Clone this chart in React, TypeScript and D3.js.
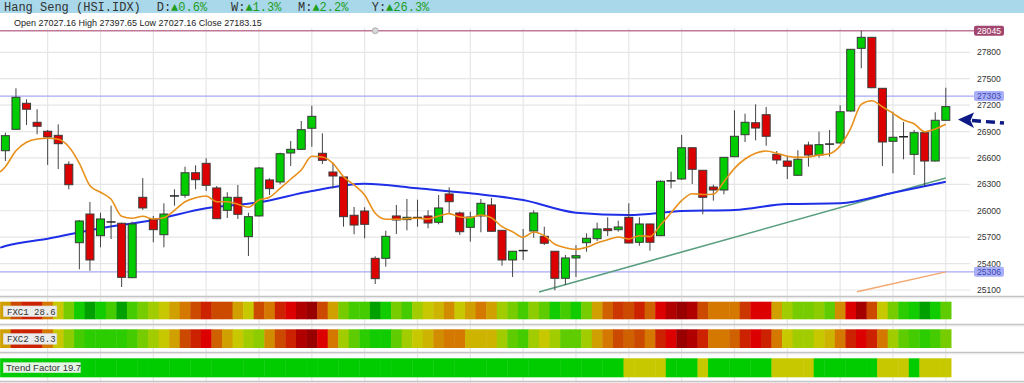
import React from 'react';
import * as d3 from 'd3';

const OPEN = [26682,26925,27221,27005,26903,26857,26528,25637,25963,25717,25870,25858,25240,26153,25899,25728,26165,26176,26432,26539,26259,26005,26153,25706,25941,26350,26327,26656,26698,26937,26653,26440,26384,25949,25997,25460,25460,25941,25899,25920,25941,25869,26191,25975,25812,25941,26066,25778,25441,25545,25770,25710,25540,25233,25464,25637,25683,25796,25785,25926,25642,25850,25717,26338,26361,26716,26460,26270,26236,26614,26864,27000,27091,26641,26565,26403,26747,26633,26755,26770,27133,27845,27970,27391,26789,26838,26641,26887,26565,27027.16];
const HIGH = [26887,27391,27266,27153,26918,26982,26562,25895,26100,25978,26058,25865,25876,26372,25941,26085,26244,26501,26516,26596,26281,26210,26293,25978,26497,26369,26660,26792,27020,27193,26880,26546,26395,26043,26040,25483,25774,26066,26134,26126,26005,26179,26267,25990,25990,26134,26145,25780,25542,25793,26005,25819,25542,25498,25608,25744,25865,25926,25887,26085,25926,25852,26346,26444,26861,26720,26463,26296,26610,27141,27103,27209,27179,26679,26626,26687,26785,26898,26918,27198,27838,28045,27975,27395,27125,27008,26918,26890,27119,27397.65];
const LOW = [26565,26918,26974,26869,26520,26474,26244,25335,25319,25585,25679,25134,25235,26009,25642,25585,26058,26148,26244,26225,25905,25918,25907,25486,25936,26179,26301,26509,26693,26728,26531,26255,25819,25733,25687,25168,25365,25736,25778,25819,25801,25846,25975,25725,25649,25756,25762,25376,25248,25441,25694,25611,25097,25157,25248,25535,25657,25713,25762,25630,25603,25547,25712,26255,26350,26304,25960,26115,26187,26610,26781,26800,26739,26531,26361,26398,26501,26603,26614,26765,27128,27618,27391,26509,26426,26585,26406,26281,26560,27027.16];
const CLOSE = [26853,27289,27153,26960,26838,26762,26296,25884,25441,25907,25876,25244,25850,26032,25785,25963,26172,26432,26353,26289,25910,26153,25960,25933,26486,26251,26648,26698,26921,27073,26573,26395,25933,25838,25846,25229,25710,25895,25926,25926,25861,26032,26103,25762,25929,26085,25767,25441,25540,25550,25975,25631,25233,25464,25490,25687,25793,25774,25816,25634,25850,25642,26335,26342,26716,26471,26153,26236,26607,26846,27005,26940,26846,26577,26505,26585,26633,26751,26760,27125,27834,27970,27398,26781,26835,26843,26887,26565,27028,27183.15];

const MA_FAST_IDX = d3.range(-0.5, 90, 1).map((v, i) => (i === 0 ? -0.5 : i - 1));
const MA_FAST = [26440,26501,26682,26778,26815,26823,26812,26728,26539,26285,26210,26130,25937,25915,25937,25907,25921,26005,26103,26149,26168,26103,26103,26074,26040,26122,26153,26255,26358,26463,26619,26611,26539,26387,26293,26179,25971,25903,25903,25910,25915,25907,25941,25967,25929,25921,25952,25921,25819,25762,25699,25759,25717,25619,25581,25562,25585,25634,25671,25702,25679,25717,25706,25838,25978,26115,26194,26185,26187,26330,26482,26588,26653,26679,26653,26619,26607,26611,26633,26648,26739,26937,27209,27250,27182,27107,27031,26989,26898,26929,26982];

const MA_SLOW_IDX = [-0.5,0,4,9,14,19,24,29,34,39,44,49,54,59,64,69,74,79,84,89];
const MA_SLOW = [25581,25600,25683,25801,25895,26028,26096,26225,26308,26255,26198,26122,25978,25952,25997,26009,26077,26085,26205,26330];

const Y_TICKS = [25100,25400,25700,26000,26300,26600,26900,27200,27500,27800];
const RESISTANCE = 28045;
const BAND_HIGH = 27303;
const BAND_LOW = 25306;
const SUPPORT_LINE = [[50.5, 25077], [89, 26372]];
const LOWER_LINE = [[80.6, 25081], [89, 25306]];

const HEAT_COLORS = ['#990000','#b00000','#dd0000','#cc2200','#cc4a00','#d47800','#d0a000','#c8c800','#a0cc00','#77cc00','#44cc00','#11cc00','#00a000'];
const FXC1 = [6,4,3,3,5,7,9,11,12,11,10,12,10,9,8,7,6,5,4,3,4,4,6,7,4,5,3,2,1,0,4,6,9,10,10,12,11,9,10,8,7,6.5,5.5,7,6,5,6,8,9,10,8.5,9.5,11,10,11,9,6,4.5,3.5,4,3,4.5,2,1,0,1,4,5,5,5,3.5,2,2,6,8,9,9,8.5,9.5,5.5,2,0.5,4,7,9,10.5,11,12,11,9.5];
const FXC2 = [6,3,3,3,5,7,8.5,10,10.5,10.5,10.5,10.5,10,9,8,7,6,4,3,2,4.5,6,7,8,8.5,5.5,4,3,1,0,2,5,8,9.5,10.5,11,11,9.5,8,7,6.5,5.5,5,5,6.5,6.5,6.5,8,9.5,10,8,7,8,9.5,9.5,8,6,5,4,4.5,4,5,3,2,0,1,3,5,5,4.5,3,2,3,5,7,8,8,7,6.5,5,3,2,3,5,8,9.5,10,10.5,10,9];
const TREND = [1,1,1,1,1,1,1,1,1,1,1,1,1,1,1,1,1,1,1,1,1,1,1,1,1,1,1,1,1,1,1,1,1,1,1,1,1,1,1,1,1,1,1,1,1,1,1,1,1,1,1,1,1,1,1,1,1,1,1,0,0,0,0,1,1,1,0,1,1,1,1,1,1,0,0,0,0,1,1,1,1,1,1,0,0,0,1,0,0,0];

const HEADER_NAME = 'Hang Seng (HSI.IDX)';
const HEADER_CHANGES = [['D:', '▲0.6%'], ['W:', '▲1.3%'], ['M:', '▲2.2%'], ['Y:', '▲26.3%']];
const HEADER_X = [156.7, 231, 298, 371.7];
const INFO = 'Open 27027.16 High 27397.65 Low 27027.16 Close 27183.15';
const PANEL_LABELS = ['FXC1 28.6', 'FXC2 36.3', 'Trend Factor 19.7'];

const W = 1024, H = 383;

export default function App() {
  React.useEffect(() => { document.body.style.margin = '0'; }, []);
  const n = OPEN.length;
  const x = d3.scaleLinear().domain([0, n - 1]).range([5.4, 945.8]);
  const y = d3.scaleLinear().domain([25100, 27800]).range([290, 52.3]);
  const step = x(1) - x(0);
  const heat = d3.scaleLinear<string>().domain(d3.range(HEAT_COLORS.length)).range(HEAT_COLORS).interpolate(d3.interpolateRgb);
  const gridIdx = d3.range(4, n, 5);
  const fastLine = d3.line<number>().x((_, i) => x(MA_FAST_IDX[i])).y(d => y(d)).curve(d3.curveMonotoneX);
  const slowLine = d3.line<number>().x((_, i) => x(MA_SLOW_IDX[i])).y(d => y(d)).curve(d3.curveMonotoneX);
  const rows = [
    { vals: FXC1, top: 301.7, h: 17.6, color: (v: number) => heat(v) },
    { vals: FXC2, top: 329.3, h: 18.7, color: (v: number) => heat(v) },
    { vals: TREND, top: 358.3, h: 19, color: (v: number) => (v ? '#00cc00' : '#c8c800') },
  ];
  const labelY = [y(RESISTANCE), y(BAND_HIGH), y(BAND_LOW)];

  return (
    <svg width={W} height={H} style={{ position: 'absolute', left: 0, top: 0, display: 'block' }} fontFamily="'Liberation Sans', Arial, sans-serif">
      <rect x={0} y={0} width={W} height={H} fill="#fff" />
      {gridIdx.map(i => (
        <line key={'vg' + i} x1={x(i)} x2={x(i)} y1={28} y2={H} stroke="#e6e6e6" strokeWidth={1.2} />
      ))}
      {Y_TICKS.map(t => (
        <line key={'hg' + t} x1={0} x2={970} y1={y(t)} y2={y(t)} stroke="#e6e6e6" strokeWidth={1.2} />
      ))}
      <line x1={0} x2={975} y1={y(RESISTANCE)} y2={y(RESISTANCE)} stroke="#c07898" strokeWidth={1.3} />
      <circle cx={x(35)} cy={y(RESISTANCE)} r={3} fill="#d8d8d8" stroke="#b0b0b0" />
      <line x1={0} x2={975} y1={y(BAND_HIGH)} y2={y(BAND_HIGH)} stroke="#a8a8f8" strokeWidth={1.2} />
      <line x1={0} x2={975} y1={y(BAND_LOW)} y2={y(BAND_LOW)} stroke="#a8a8f8" strokeWidth={1.2} />
      <line x1={x(SUPPORT_LINE[0][0])} y1={y(SUPPORT_LINE[0][1])} x2={x(SUPPORT_LINE[1][0])} y2={y(SUPPORT_LINE[1][1])} stroke="#5a9e80" strokeWidth={1.6} />
      <line x1={x(LOWER_LINE[0][0])} y1={y(LOWER_LINE[0][1])} x2={x(LOWER_LINE[1][0])} y2={y(LOWER_LINE[1][1])} stroke="#f2a870" strokeWidth={1.5} />
      <path d={slowLine(MA_SLOW) || ''} fill="none" stroke="#1f2fe8" strokeWidth={2} />
      {OPEN.map((o, i) => {
        const c = CLOSE[i];
        const cx = x(i);
        const up = c >= o;
        const top = y(Math.max(o, c));
        const bot = y(Math.min(o, c));
        const doji = Math.abs(o - c) < 12;
        return (
          <g key={'c' + i}>
            <line x1={cx} x2={cx} y1={y(HIGH[i])} y2={y(LOW[i])} stroke="#444" strokeWidth={1} />
            {doji ? (
              <line x1={cx - 4.5} x2={cx + 4.5} y1={(top + bot) / 2} y2={(top + bot) / 2} stroke="#222" strokeWidth={1.5} />
            ) : (
              <rect x={cx - 4} y={top} width={8} height={Math.max(1, bot - top)} fill={up ? '#00cc00' : '#dd0000'} stroke="#3a3a3a" strokeWidth={1} />
            )}
          </g>
        );
      })}
      <path d={fastLine(MA_FAST) || ''} fill="none" stroke="#e8901a" strokeWidth={1.6} />
      {Y_TICKS.map(t => (
        <text key={'yt' + t} x={977} y={y(t)} dy="0.35em" fontSize={8.6} fill="#333">{t}</text>
      ))}
      <rect x={974} y={labelY[0] - 5} width={30} height={10} rx={2} fill="#a3466f" />
      <text x={989} y={labelY[0]} dy="0.35em" textAnchor="middle" fontSize={8.6} fill="#fff">{RESISTANCE}</text>
      <rect x={974} y={labelY[1] - 5} width={30} height={10} rx={2} fill="#aab0f8" />
      <text x={989} y={labelY[1]} dy="0.35em" textAnchor="middle" fontSize={8.6} fill="#3c48b0">{BAND_HIGH}</text>
      <rect x={974} y={labelY[2] - 5} width={30} height={10} rx={2} fill="#aab0f8" />
      <text x={989} y={labelY[2]} dy="0.35em" textAnchor="middle" fontSize={8.6} fill="#3c48b0">{BAND_LOW}</text>
      <line x1={972} y1={120.5} x2={1004} y2={123} stroke="#0d1a85" strokeWidth={3.4} strokeDasharray="9,5" />
      <path d={`M958,119.5 L974,112.5 L970.5,120.5 L974,128 Z`} fill="#0d1a85" />
      {[296.5, 324.5, 352.5, 381.5].map(v => (
        <g key={'sep' + v}>
          <line x1={0} x2={W} y1={v} y2={v} stroke="#c4c4c4" strokeWidth={1.3} />
          <line x1={0} x2={W} y1={v + 1.3} y2={v + 1.3} stroke="#e4e4e4" strokeWidth={1} />
        </g>
      ))}
      {rows.map((r, ri) => (
        <g key={'row' + ri}>
          {r.vals.map((v, i) => (
            <rect key={i} x={x(i) - step / 2} y={r.top} width={step + 0.4} height={r.h} fill={r.color(v)} />
          ))}
        </g>
      ))}
      <rect x={3.3} y={306} width={53.5} height={10.5} fill="#ececec" stroke="#ddd" strokeWidth={0.6} />
      <text x={7} y={314.5} fontSize={9} fontFamily="'Liberation Mono', monospace" fill="#333">{PANEL_LABELS[0]}</text>
      <rect x={3.3} y={333.7} width={53.5} height={10.5} fill="#ececec" stroke="#ddd" strokeWidth={0.6} />
      <text x={7} y={342.2} fontSize={9} fontFamily="'Liberation Mono', monospace" fill="#333">{PANEL_LABELS[1]}</text>
      <rect x={3.3} y={362.7} width={77} height={10} fill="#e6f6e6" stroke="#cde8cd" strokeWidth={0.6} />
      <text x={6} y={371} fontSize={9.5} fill="#333">{PANEL_LABELS[2]}</text>
      <rect x={0} y={0} width={W} height={13} fill="#a8d8ea" />
      <text x={4} y={10.5} fontSize={12} fontFamily="'Liberation Mono', monospace" fill="#333">{HEADER_NAME}</text>
      {HEADER_CHANGES.map((g, i) => (
        <text key={'hc' + i} x={HEADER_X[i]} y={10.5} fontSize={12} fontFamily="'Liberation Mono', 'DejaVu Sans Mono', monospace" fill="#333">
          {g[0]}<tspan fill="#1e9e1e">{g[1]}</tspan>
        </text>
      ))}
      <text x={14} y={26.2} fontSize={9} fill="#222">{INFO}</text>
    </svg>
  );
}
